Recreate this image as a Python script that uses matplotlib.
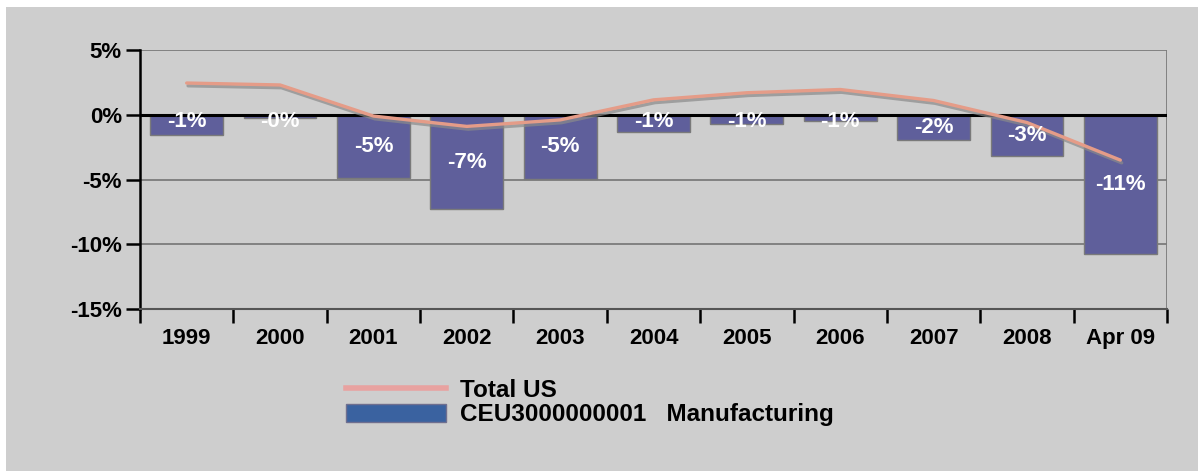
import matplotlib.pyplot as plt
import matplotlib.patheffects as pe
from matplotlib.patches import Rectangle, Patch
from matplotlib.lines import Line2D
import numpy as np

plt.rcParams['font.family'] = ['Liberation Sans', 'DejaVu Sans']

# data (percent change)
years = ['1999', '2000', '2001', '2002', '2003', '2004', '2005', '2006', '2007', '2008', 'Apr 09']
manufacturing = [-1.55, -0.25, -4.85, -7.3, -4.95, -1.3, -0.7, -0.5, -1.95, -3.2, -10.75]
bar_labels = ['-1%', '-0%', '-5%', '-7%', '-5%', '-1%', '-1%', '-1%', '-2%', '-3%', '-11%']
total_us = [2.45, 2.3, -0.1, -0.9, -0.4, 1.15, 1.7, 1.95, 1.1, -0.6, -3.5]
y_ticks = [5, 0, -5, -10, -15]

bg = '#cecece'
bar_color = '#5f5f9b'
line_color = '#e59c88'

fig = plt.figure(figsize=(11.98, 4.71), dpi=100, facecolor='white')
# grey panel (white strip left and top)
fig.patches.append(Rectangle((6 / 1198, 0), 1, 1 - 7 / 471, transform=fig.transFigure,
                             facecolor=bg, edgecolor='none', zorder=-10))

ax = fig.add_axes([140 / 1198, 1 - 309 / 471, (1167 - 140) / 1198, (309 - 50) / 471])
ax.set_facecolor(bg)

x = np.arange(len(years))
bars = ax.bar(x, manufacturing, width=0.78, color=bar_color, edgecolor='#7a7a7a',
              linewidth=1, zorder=3)

for xi, v, lab in zip(x, manufacturing, bar_labels):
    yc = v / 2 if v < -1.6 else -0.55
    ax.text(xi, yc, lab, ha='center', va='center', color='white', fontsize=16,
            fontweight='bold', zorder=6)

ax.plot(x, total_us, color=line_color, lw=2.4, zorder=5, solid_capstyle='round',
        path_effects=[pe.SimpleLineShadow(offset=(1, -2), shadow_color='#8a8a8a', alpha=0.7),
                      pe.Normal()])

# gridlines
for yv in [5, -5, -10]:
    ax.axhline(yv, color='#7c7c7c', lw=1.3, zorder=1)
ax.axhline(0, color='black', lw=2.2, zorder=4)

ax.set_xlim(-0.5, len(years) - 0.5)
ax.set_ylim(-15, 5)

for s in ['top', 'right']:
    ax.spines[s].set_visible(False)
ax.axvline(len(years) - 0.5, ymin=0.0, ymax=1.0, color='#7c7c7c', lw=1.3, zorder=1)
ax.spines['left'].set_color('black')
ax.spines['left'].set_linewidth(1.8)
ax.spines['bottom'].set_color('#555555')
ax.spines['bottom'].set_linewidth(1.5)

ax.set_yticks(y_ticks)
ax.set_yticklabels([f'{t}%' for t in y_ticks], fontsize=16, fontweight='bold')
ax.tick_params(axis='y', direction='out', length=10, width=1.8, pad=3)

ax.set_xticks(x)
ax.set_xticklabels(years, fontsize=16, fontweight='bold')
ax.set_xticks(np.arange(-0.5, len(years)), minor=True)
ax.tick_params(axis='x', which='major', length=0, pad=14)
ax.tick_params(axis='x', which='minor', direction='out', length=10, width=1.8)

handles = [Line2D([0], [0], color='#e8a2a0', lw=4),
           Patch(facecolor='#3a62a0', edgecolor='#6f6f8f')]
fig.legend(handles, ['Total US', 'CEU3000000001   Manufacturing'],
           loc='upper left', bbox_to_anchor=(324 / 1198, 1 - 357 / 471),
           frameon=False, prop={'size': 17.5, 'weight': 'bold'},
           handlelength=4.1, handleheight=0.75, handletextpad=0.6, labelspacing=0.05)

fig.savefig('out.png', dpi=100, facecolor=fig.get_facecolor())
